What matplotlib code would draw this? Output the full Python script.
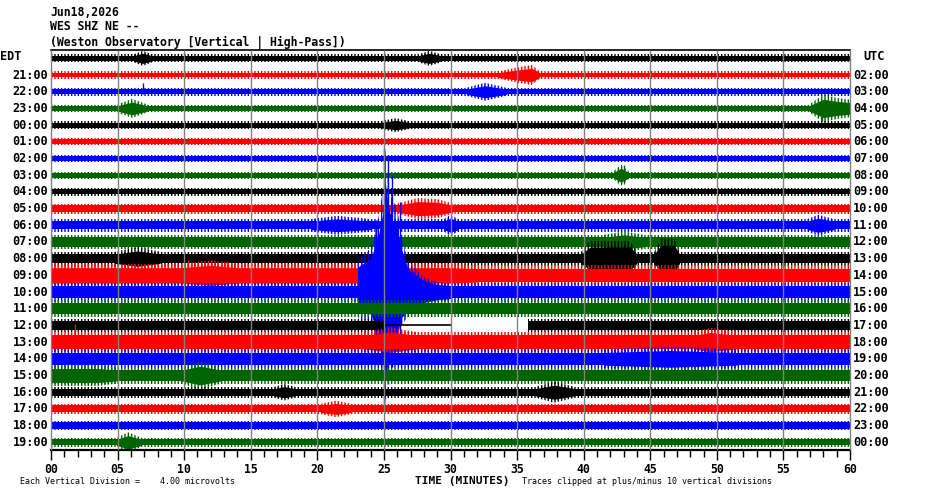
import numpy as np
import matplotlib
matplotlib.use('Agg')
import matplotlib.pyplot as plt
import matplotlib.transforms as mtransforms

plt.rcParams['font.family'] = 'DejaVu Sans Mono'
plt.rcParams['font.weight'] = 'bold'
plt.rcParams['hatch.linewidth'] = 1.0

# Libellés des lignes (heure locale à gauche, UTC à droite), ligne 0 = en-tête
edt_labels = ['21:00', '22:00', '23:00', '00:00', '01:00', '02:00', '03:00', '04:00',
              '05:00', '06:00', '07:00', '08:00', '09:00', '10:00', '11:00', '12:00',
              '13:00', '14:00', '15:00', '16:00', '17:00', '18:00', '19:00']
utc_labels = ['02:00', '03:00', '04:00', '05:00', '06:00', '07:00', '08:00', '09:00',
              '10:00', '11:00', '12:00', '13:00', '14:00', '15:00', '16:00', '17:00',
              '18:00', '19:00', '20:00', '21:00', '22:00', '23:00', '00:00']
trace_colors = ['black', '#ff0000', '#0000ff', '#006400']

# Demi-amplitude du bruit de fond de chaque trace (en interlignes)
base_amp = [0.16, 0.145, 0.16, 0.145, 0.145, 0.145, 0.145, 0.145, 0.145, 0.20, 0.25, 0.29,
            0.28, 0.40, 0.38, 0.34, 0.27, 0.40, 0.38, 0.32, 0.22, 0.21, 0.19, 0.18]

# Bouffées de signal : (ligne, temps en minutes, demi-amplitudes)
bursts = [
    (0, [6.2, 6.9, 7.6], [0.16, 0.30, 0.16]),
    (0, [27.6, 28.4, 29.3], [0.16, 0.30, 0.16]),
    (1, [33.6, 35.0, 36.1, 36.7], [0.145, 0.30, 0.40, 0.145]),
    (2, [31.2, 32.6, 34.2], [0.16, 0.36, 0.16]),
    (3, [4.9, 6.1, 7.3], [0.145, 0.38, 0.145]),
    (3, [56.9, 58.0, 59.0, 60.0], [0.145, 0.55, 0.42, 0.35]),
    (4, [24.6, 25.9, 27.0], [0.145, 0.28, 0.145]),
    (7, [42.2, 42.8, 43.4], [0.145, 0.42, 0.145]),
    (9, [26.0, 27.5, 29.0, 30.2], [0.20, 0.42, 0.38, 0.20]),
    (10, [19.5, 21.5, 24.0], [0.25, 0.38, 0.25]),
    (10, [29.5, 30.0, 30.6], [0.25, 0.42, 0.25]),
    (10, [56.8, 57.6, 58.8], [0.25, 0.42, 0.25]),
    (11, [41.5, 43.0, 44.5], [0.29, 0.42, 0.29]),
    (12, [4.8, 6.5, 8.2], [0.28, 0.46, 0.28]),
    (12, [39.8, 40.5, 43.5, 44.0], [0.28, 0.70, 0.70, 0.28]),
    (12, [45.3, 45.8, 46.8, 47.2], [0.28, 0.80, 0.80, 0.28]),
    (13, [0.0, 30.0, 32.0], [0.46, 0.46, 0.40]),
    (13, [9.8, 12.0, 14.0], [0.46, 0.60, 0.46]),
    (17, [23.5, 25.5, 27.5], [0.40, 0.60, 0.40]),
    (17, [48.3, 49.5, 51.5], [0.40, 0.58, 0.40]),
    (18, [41.5, 46.5, 51.5], [0.38, 0.50, 0.38]),
    (19, [0.0, 3.5, 5.0], [0.42, 0.42, 0.32]),
    (19, [9.8, 11.2, 12.8], [0.32, 0.56, 0.32]),
    (20, [16.8, 17.5, 18.3], [0.22, 0.33, 0.22]),
    (20, [36.4, 37.8, 39.3], [0.22, 0.42, 0.22]),
    (21, [20.3, 21.4, 22.5], [0.21, 0.33, 0.21]),
    (23, [4.9, 5.8, 6.8], [0.18, 0.40, 0.18]),
]

# Pointes isolées : (ligne, temps, vers le haut, vers le bas)
spikes = [
    (2, 6.9, 0.50, 0.15), (7, 43.0, 0.60, 0.55), (13, 10.3, 0.90, 0.5),
    (13, 12.0, 0.90, 0.5), (13, 13.2, 0.85, 0.5), (17, 1.8, 1.10, 0.45),
    (3, 57.9, 0.3, 0.75),
    (14, 24.4, 4.3, 3.0), (14, 25.0, 8.6, 6.7), (14, 25.3, 8.0, 5.5),
    (14, 25.6, 7.0, 4.5), (14, 26.2, 5.4, 3.5),
]

# Séisme sur la trace de 10:00 (ligne 14) : extension maximale
quake_row = 14
quake_t = [23.0, 23.1, 24.0, 24.5, 24.9, 25.1, 25.3, 25.6, 26.0, 26.3, 26.8, 27.5, 28.0, 29.0, 30.0]
quake_up = [0.5, 2.0, 2.6, 4.0, 6.0, 8.6, 6.8, 5.6, 5.0, 3.4, 1.8, 1.3, 0.9, 0.6, 0.5]
quake_dn = [0.5, 1.6, 1.7, 3.0, 5.3, 6.7, 5.3, 4.0, 3.4, 2.0, 1.5, 1.1, 0.8, 0.6, 0.5]

# Trou de données sur la trace de 12:00 (ligne 16)
gap_row = 16
gap_start = 25.1
flat_end = 30.0
resume = 35.8

# Les pointes du bruit dépassent le coeur plein de la trace
spike_ratio = 1.5
quake_ratio = 1.3


def band(ax, t, dn, up, centre, c, z, ratio=spike_ratio):
    """Coeur plein + frange hachurée qui imite les pointes du signal."""
    t = np.asarray(t, dtype=float)
    dn = np.asarray(dn, dtype=float)
    up = np.asarray(up, dtype=float)
    ax.fill_between(t, centre - up, centre + dn, color=c, lw=0, zorder=z)
    ax.fill_between(t, centre - up * ratio, centre + dn * ratio,
                    facecolor='none', edgecolor=c, hatch='|||||', lw=0, zorder=z)


fig = plt.figure(figsize=(9.3, 4.94), dpi=100)
ax = fig.add_axes([51 / 930, 1 - 450 / 494, 799 / 930, 400 / 494])
ax.set_xlim(0, 60)
ax.set_ylim(23.46, -0.5)

for i, a in enumerate(base_amp):
    c = trace_colors[i % 4]
    z = 2 + i / 100
    if i == gap_row:
        for t0, t1 in [(0, gap_start), (resume, 60)]:
            band(ax, [t0, t1], [a, a], [a, a], i, c, z)
        ax.plot([gap_start, flat_end], [i, i], color=c, lw=1.2, zorder=z)
    else:
        band(ax, [0, 60], [a, a], [a, a], i, c, z)
    for row, ts, amps in bursts:
        if row == i:
            band(ax, ts, amps, amps, i, c, z)
    for row, t, up, dn in spikes:
        if row == i:
            ax.vlines(t, i - up, i + dn, color=c, lw=1, zorder=z)
    if i == quake_row:
        band(ax, quake_t, np.array(quake_dn) / quake_ratio, np.array(quake_up) / quake_ratio,
             i, c, z, ratio=quake_ratio)

# Lignes verticales toutes les 5 minutes
ax.vlines(range(0, 61, 5), -0.5, 23.46, colors='#808080', lw=1, zorder=10, clip_on=False)

for s in ['left', 'right']:
    ax.spines[s].set_visible(False)
ax.spines['top'].set_linewidth(1.2)
ax.spines['bottom'].set_linewidth(1.6)

ax.set_yticks([])
ax.set_xticks(range(0, 61, 5))
ax.set_xticklabels([f'{m:02d}' for m in range(0, 61, 5)])
ax.set_xticks(range(0, 61), minor=True)
ax.tick_params(axis='x', which='major', length=7, width=1, pad=2, labelsize=8.3)
ax.tick_params(axis='x', which='minor', length=5, width=1)

trans = mtransforms.blended_transform_factory(fig.transFigure, ax.transData)
for i, lab in enumerate(edt_labels, start=1):
    ax.text(48 / 930, i, lab, transform=trans, ha='right', va='center', fontsize=8.6)
for i, lab in enumerate(utc_labels, start=1):
    ax.text(853 / 930, i, lab, transform=trans, ha='left', va='center', fontsize=8.6)
ax.text(0, -0.1, 'EDT', transform=trans, ha='left', va='center', fontsize=8.6)
ax.text(863 / 930, -0.1, 'UTC', transform=trans, ha='left', va='center', fontsize=8.6)

fig.text(50 / 930, 1 - 12 / 494, 'Jun18,2026', ha='left', va='center', fontsize=8.3)
fig.text(50 / 930, 1 - 27 / 494, 'WES SHZ NE --', ha='left', va='center', fontsize=8.3)
fig.text(50 / 930, 1 - 42 / 494, '(Weston Observatory [Vertical | High-Pass])',
         ha='left', va='center', fontsize=8.3)

fig.text(462 / 930, 1 - 481 / 494, 'TIME (MINUTES)', ha='center', va='center', fontsize=8.0)
fig.text(20 / 930, 1 - 481 / 494, 'Each Vertical Division =    4.00 microvolts',
         ha='left', va='center', fontsize=6.0, fontweight='normal')
fig.text(522 / 930, 1 - 481 / 494, 'Traces clipped at plus/minus 10 vertical divisions',
         ha='left', va='center', fontsize=6.0, fontweight='normal')

fig.savefig('out.png', dpi=100)
